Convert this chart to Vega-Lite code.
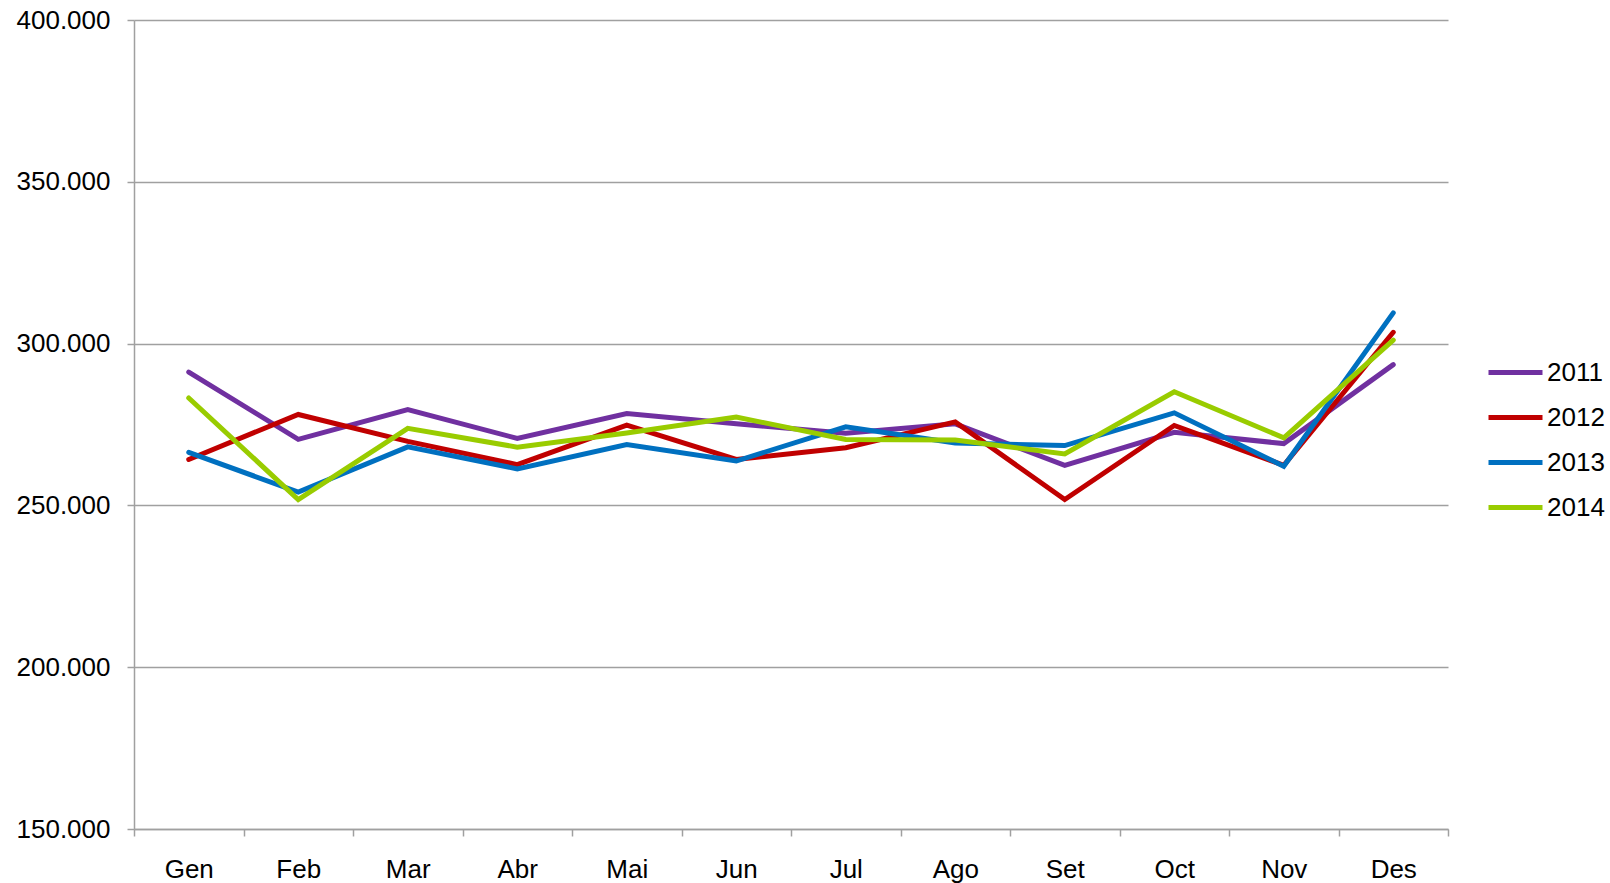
{
  "$schema": "https://vega.github.io/schema/vega-lite/v6.json",
  "width": 1314,
  "height": 809,
  "autosize": "none",
  "padding": {"left": 134, "top": 20, "right": 162, "bottom": 54},
  "background": "white",
  "config": {"font": "Liberation Sans", "view": {"stroke": null}},
  "data": {"values": [
    {"month": "Gen", "year": "2011", "value": 291200},
    {"month": "Feb", "year": "2011", "value": 270400},
    {"month": "Mar", "year": "2011", "value": 279600},
    {"month": "Abr", "year": "2011", "value": 270700},
    {"month": "Mai", "year": "2011", "value": 278400},
    {"month": "Jun", "year": "2011", "value": 275200},
    {"month": "Jul", "year": "2011", "value": 272300},
    {"month": "Ago", "year": "2011", "value": 275200},
    {"month": "Set", "year": "2011", "value": 262400},
    {"month": "Oct", "year": "2011", "value": 272600},
    {"month": "Nov", "year": "2011", "value": 269100},
    {"month": "Des", "year": "2011", "value": 293500},
    {"month": "Gen", "year": "2012", "value": 264200},
    {"month": "Feb", "year": "2012", "value": 278100},
    {"month": "Mar", "year": "2012", "value": 269800},
    {"month": "Abr", "year": "2012", "value": 262600},
    {"month": "Mai", "year": "2012", "value": 274800},
    {"month": "Jun", "year": "2012", "value": 264200},
    {"month": "Jul", "year": "2012", "value": 267800},
    {"month": "Ago", "year": "2012", "value": 275800},
    {"month": "Set", "year": "2012", "value": 251800},
    {"month": "Oct", "year": "2012", "value": 274700},
    {"month": "Nov", "year": "2012", "value": 262400},
    {"month": "Des", "year": "2012", "value": 303500},
    {"month": "Gen", "year": "2013", "value": 266400},
    {"month": "Feb", "year": "2013", "value": 254100},
    {"month": "Mar", "year": "2013", "value": 268100},
    {"month": "Abr", "year": "2013", "value": 261300},
    {"month": "Mai", "year": "2013", "value": 268800},
    {"month": "Jun", "year": "2013", "value": 263700},
    {"month": "Jul", "year": "2013", "value": 274300},
    {"month": "Ago", "year": "2013", "value": 269300},
    {"month": "Set", "year": "2013", "value": 268500},
    {"month": "Oct", "year": "2013", "value": 278600},
    {"month": "Nov", "year": "2013", "value": 262100},
    {"month": "Des", "year": "2013", "value": 309500},
    {"month": "Gen", "year": "2014", "value": 283200},
    {"month": "Feb", "year": "2014", "value": 251800},
    {"month": "Mar", "year": "2014", "value": 273800},
    {"month": "Abr", "year": "2014", "value": 268000},
    {"month": "Mai", "year": "2014", "value": 272400},
    {"month": "Jun", "year": "2014", "value": 277300},
    {"month": "Jul", "year": "2014", "value": 270400},
    {"month": "Ago", "year": "2014", "value": 270200},
    {"month": "Set", "year": "2014", "value": 265900},
    {"month": "Oct", "year": "2014", "value": 285100},
    {"month": "Nov", "year": "2014", "value": 270900},
    {"month": "Des", "year": "2014", "value": 301100}
  ]},
  "mark": {"type": "line", "strokeWidth": 5, "strokeCap": "round", "strokeJoin": "miter"},
  "encoding": {
    "x": {
      "field": "month", "type": "nominal",
      "sort": ["Gen","Feb","Mar","Abr","Mai","Jun","Jul","Ago","Set","Oct","Nov","Des"],
      "scale": {"type": "band", "paddingInner": 0, "paddingOuter": 0},
      "axis": {
        "title": null, "labelAngle": 0, "labelFontSize": 26, "labelColor": "black",
        "labelPadding": 20, "tickBand": "extent", "tickSize": 7, "tickColor": "#a0a0a0",
        "tickWidth": 1.5, "domainColor": "#a0a0a0", "domainWidth": 1.5, "grid": false
      }
    },
    "y": {
      "field": "value", "type": "quantitative",
      "scale": {"domain": [150000, 400000], "nice": false},
      "axis": {
        "title": null, "values": [150000, 200000, 250000, 300000, 350000, 400000],
        "labelExpr": "replace(format(datum.value, ','), ',', '.')",
        "labelFontSize": 26, "labelColor": "black", "labelPadding": 17,
        "tickSize": 7, "tickColor": "#a0a0a0", "tickWidth": 1.5,
        "domainColor": "#a0a0a0", "domainWidth": 1.5,
        "grid": true, "gridColor": "#a0a0a0", "gridWidth": 1.5
      }
    },
    "color": {
      "field": "year", "type": "nominal",
      "scale": {"domain": ["2011","2012","2013","2014"], "range": ["#7030A0","#C00000","#0070C0","#99CC00"]},
      "legend": {
        "title": null, "orient": "none", "legendX": 1352, "legendY": 323,
        "symbolType": "stroke", "symbolSize": 2916, "symbolStrokeWidth": 5,
        "labelFontSize": 26, "labelColor": "black", "labelOffset": 2,
        "rowPadding": 2, "padding": 0
      }
    }
  }
}
